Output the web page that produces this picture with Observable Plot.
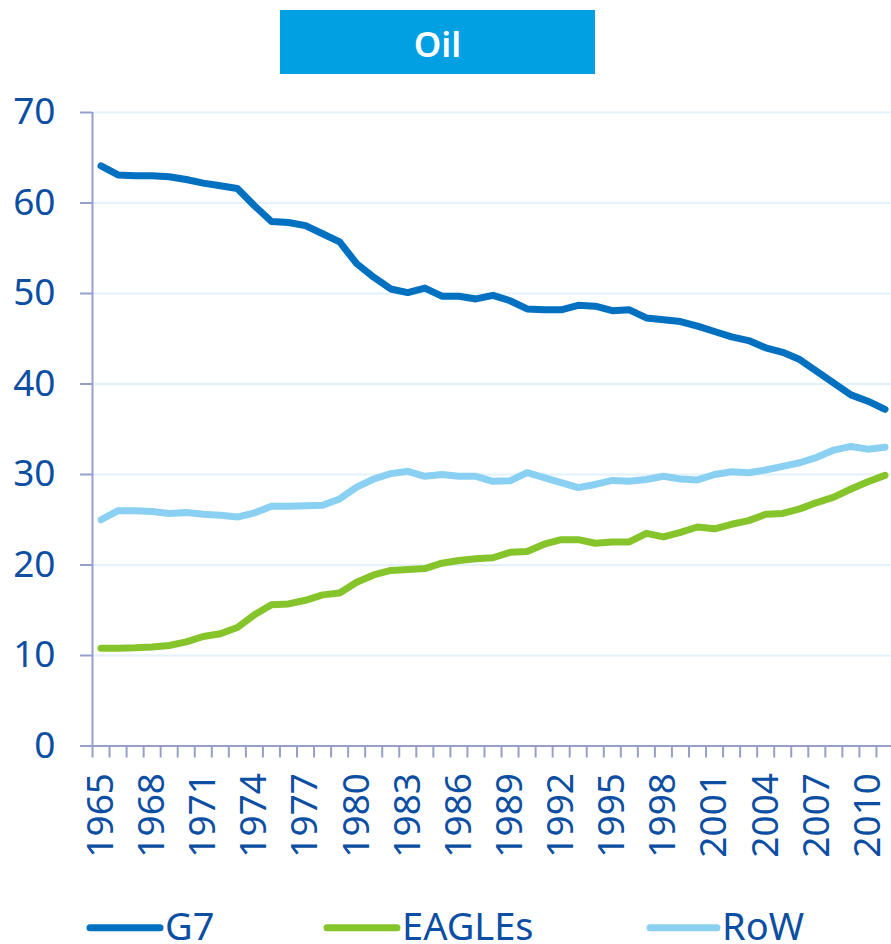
<!DOCTYPE html>
<html><head><meta charset="utf-8">
<script src="https://cdn.jsdelivr.net/npm/d3@7"></script>
<script src="https://cdn.jsdelivr.net/npm/@observablehq/plot@0.6"></script>
<style>
body{margin:0;background:#fff;font-family:"Noto Sans",sans-serif;}
#wrap{width:891px;}
#title{position:relative;height:100px;}
#title div{position:absolute;left:280px;top:10px;width:315px;height:64px;background:#00A0E3;color:#fff;font-weight:600;font-size:35px;display:flex;align-items:center;justify-content:center;padding-top:2px;box-sizing:border-box;}
#chart svg, #legend svg{display:block;}
</style></head><body>
<div id="wrap"><div id="title"><div>Oil</div></div><div id="chart"></div><div id="legend"></div></div>
<script>
const years = [1965,1966,1967,1968,1969,1970,1971,1972,1973,1974,1975,1976,1977,1978,1979,1980,1981,1982,1983,1984,1985,1986,1987,1988,1989,1990,1991,1992,1993,1994,1995,1996,1997,1998,1999,2000,2001,2002,2003,2004,2005,2006,2007,2008,2009,2010,2011];
const g7 = [64.1,63.1,63.0,63.0,62.9,62.6,62.2,61.9,61.6,59.7,57.95,57.85,57.5,56.6,55.7,53.3,51.8,50.5,50.1,50.6,49.7,49.7,49.4,49.8,49.2,48.3,48.2,48.2,48.7,48.6,48.1,48.2,47.3,47.1,46.9,46.4,45.8,45.2,44.8,44.0,43.5,42.7,41.4,40.1,38.8,38.1,37.2];
const eagles = [10.8,10.8,10.85,10.95,11.1,11.5,12.1,12.4,13.1,14.5,15.6,15.7,16.1,16.7,16.9,18.1,18.9,19.4,19.5,19.6,20.2,20.5,20.7,20.8,21.4,21.5,22.3,22.8,22.8,22.4,22.55,22.55,23.5,23.1,23.6,24.2,24.0,24.5,24.9,25.6,25.7,26.2,26.9,27.5,28.4,29.2,29.9];
const row = [25.0,26.0,26.0,25.9,25.7,25.8,25.6,25.5,25.3,25.75,26.5,26.5,26.55,26.6,27.3,28.6,29.5,30.1,30.35,29.8,30.0,29.8,29.8,29.25,29.3,30.2,29.65,29.1,28.55,28.9,29.35,29.25,29.45,29.8,29.5,29.4,30.0,30.3,30.2,30.5,30.9,31.3,31.9,32.7,33.1,32.8,33.0];
const yTicks = [0,10,20,30,40,50,60,70];
const xLabelYears = [1965,1968,1971,1974,1977,1980,1983,1986,1989,1992,1995,1998,2001,2004,2007,2010];
const seriesNames = ["G7","EAGLEs","RoW"];
const seriesColors = ["#0070C0","#86C42B","#8AD0F3"];

const textColor = "#0B4EA2";
const axisColor = "#979FC9";
const gridColor = "#E4F2FB";

const seriesValues = [g7, eagles, row];
const data = seriesNames.flatMap((s, k) => years.map((yr, i) => ({year: yr, value: seriesValues[k][i], series: s})));
const boundaries = years.map(y => y - 0.5).concat([years[years.length - 1] + 0.5]);

const chart = Plot.plot({
  width: 891,
  height: 770,
  marginTop: 12,
  marginBottom: 124.5,
  marginLeft: 92,
  marginRight: 0,
  style: {fontFamily: "Noto Sans", background: "#fff", overflow: "visible"},
  x: {domain: [years[0] - 0.5, years[years.length - 1] + 0.5], range: [92, 893]},
  y: {domain: [0, 70]},
  color: {domain: seriesNames, range: seriesColors},
  marks: [
    Plot.gridY(yTicks.filter(v => v > 0), {stroke: gridColor, strokeOpacity: 1, strokeWidth: 2}),
    Plot.axisY({ticks: yTicks, tickSize: 12, tickFormat: () => "", stroke: axisColor, strokeWidth: 2, label: null}),
    Plot.axisY({ticks: yTicks, tickSize: 0, tickPadding: 37, fontSize: 37, fill: textColor, label: null, tickFormat: d => String(d)}),
    Plot.axisX({ticks: boundaries, tickSize: 12, tickFormat: () => "", stroke: axisColor, strokeWidth: 2, label: null}),
    Plot.axisX({ticks: xLabelYears, tickSize: 0, tickPadding: 27, tickRotate: -90, fontSize: 37, fill: textColor, label: null, tickFormat: d => String(d)}),
    Plot.ruleY([0], {stroke: axisColor, strokeWidth: 2}),
    Plot.ruleX([years[0] - 0.5], {y1: 0, y2: 70, stroke: axisColor, strokeWidth: 2}),
    Plot.line(data, {x: "year", y: "value", z: "series", stroke: "series", strokeWidth: 7, strokeLinecap: "round", strokeLinejoin: "round"})
  ]
});
document.getElementById("chart").appendChild(chart);

// legend
const legendItems = [
  {name: seriesNames[0], color: seriesColors[0], x1: 90, x2: 160, tx: 165},
  {name: seriesNames[1], color: seriesColors[1], x1: 327, x2: 397, tx: 402},
  {name: seriesNames[2], color: seriesColors[2], x1: 650, x2: 717, tx: 722}
];
const lg = d3.select("#legend").append("svg").attr("width", 891).attr("height", 74);
const gi = lg.selectAll("g").data(legendItems).join("g");
gi.append("line").attr("x1", d => d.x1).attr("x2", d => d.x2).attr("y1", 57.7).attr("y2", 57.7)
  .attr("stroke", d => d.color).attr("stroke-width", 7).attr("stroke-linecap", "round");
gi.append("text").attr("x", d => d.tx).attr("y", 70).attr("fill", textColor)
  .attr("font-family", "Noto Sans").attr("font-size", 38).text(d => d.name);
</script>
</body></html>
